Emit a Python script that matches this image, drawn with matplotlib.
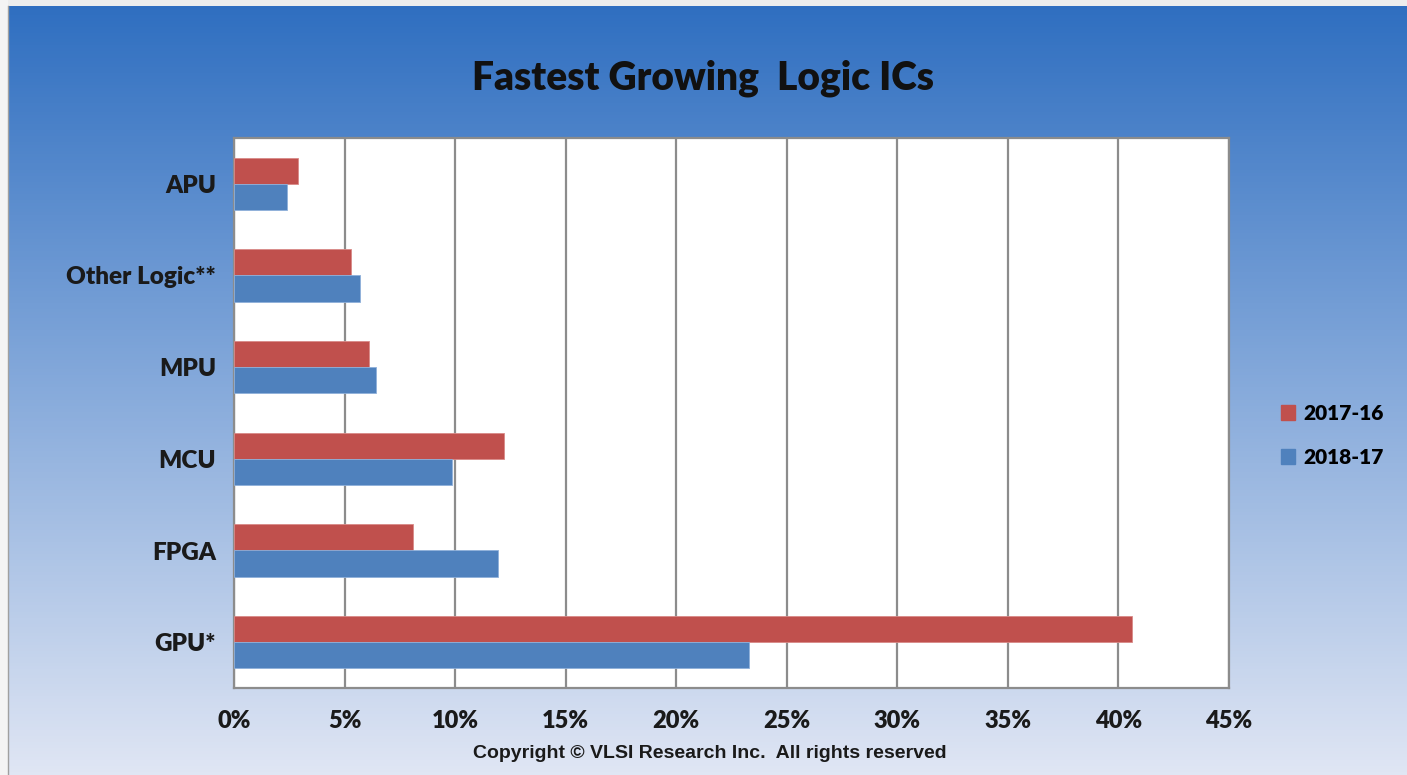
import numpy as np
import matplotlib
matplotlib.use("Agg")
import matplotlib.pyplot as plt
from matplotlib.patches import Rectangle, Patch
from matplotlib.colors import LinearSegmentedColormap

categories = ["GPU*", "FPGA", "MCU", "MPU", "Other Logic**", "APU"]
growth_2017_16 = [40.6, 8.1, 12.2, 6.1, 5.3, 2.9]
growth_2018_17 = [23.3, 11.95, 9.85, 6.4, 5.7, 2.4]
xticks = [0, 5, 10, 15, 20, 25, 30, 35, 40, 45]

red = "#C0504D"
blue = "#4F81BD"
label_font = ["Lato", "DejaVu Sans"]
heavy = "heavy"

fig = plt.figure(figsize=(14.07, 7.75), dpi=100)

# gradient backdrop
bg = fig.add_axes([0, 0, 1, 1], zorder=-10)
grad_cmap = LinearSegmentedColormap.from_list(
    "bg", [(0.0, "#2E6EC0"), (0.5, "#86AADB"), (1.0, "#E0E6F4")])
bg.imshow(np.linspace(0, 1, 256).reshape(-1, 1), aspect="auto", cmap=grad_cmap,
          extent=[0, 1, 0, 1], origin="upper")
bg.set_xlim(0, 1)
bg.set_ylim(0, 1)
bg.axis("off")
# light border strip along top and left edge
bg.add_patch(Rectangle((0, 1 - 6 / 775), 1, 6 / 775, color="#EDEDED", lw=0))
bg.add_patch(Rectangle((0, 0), 8 / 1407, 1, color="#F4F4F4", lw=0))
bg.plot([8 / 1407, 8 / 1407], [0, 1 - 6 / 775], color="#A0A0A0", lw=1)

ax = fig.add_axes([234 / 1407, 1 - 688 / 775, 995 / 1407, 550 / 775])
ax.set_facecolor("white")

y = np.arange(len(categories))
h = 0.286
ax.barh(y + h / 2, growth_2017_16, height=h, color=red, edgecolor="#D98A88",
        linewidth=0.6, label="2017-16", zorder=3)
ax.barh(y - h / 2, growth_2018_17, height=h, color=blue, edgecolor="#8FB0DA",
        linewidth=0.6, label="2018-17", zorder=3)

ax.set_xlim(0, 45)
ax.set_ylim(-0.5, len(categories) - 0.5)
ax.set_xticks(xticks)
ax.set_xticklabels([f"{v}%" for v in xticks], fontsize=17, fontweight=heavy,
                   family=label_font, color="#1A1A1A")
ax.set_yticks(y)
ax.set_yticklabels(categories, fontsize=17.5, fontweight=heavy,
                   family=label_font, color="#1A1A1A")
ax.tick_params(axis="both", length=0)
ax.tick_params(axis="x", pad=16)
ax.tick_params(axis="y", pad=13)
ax.grid(axis="x", color="#8C8C8C", linewidth=1.6, zorder=1)
for s in ax.spines.values():
    s.set_color("#8C8C8C")
    s.set_linewidth(1.6)

fig.text(0.5, 1 - 78 / 775, "Fastest Growing  Logic ICs", ha="center", va="center",
         fontsize=28, fontweight=heavy, family=label_font, color="#111111")
fig.text(0.5045, 1 - 753 / 775, "Copyright \u00a9 VLSI Research Inc.  All rights reserved",
         ha="center", va="center", fontsize=14, fontweight="bold",
         family=["Liberation Sans", "DejaVu Sans"], color="#1A1A1A")

handles = [Patch(color=red), Patch(color=blue)]
fig.legend(handles, ["2017-16", "2018-17"], loc="center left",
           bbox_to_anchor=(1262 / 1407, 1 - 435 / 775), frameon=False,
           handlelength=0.7, handleheight=0.7, handletextpad=0.4, labelspacing=1.2,
           prop={"family": label_font, "weight": heavy, "size": 15})

fig.savefig("out.png", dpi=100)
